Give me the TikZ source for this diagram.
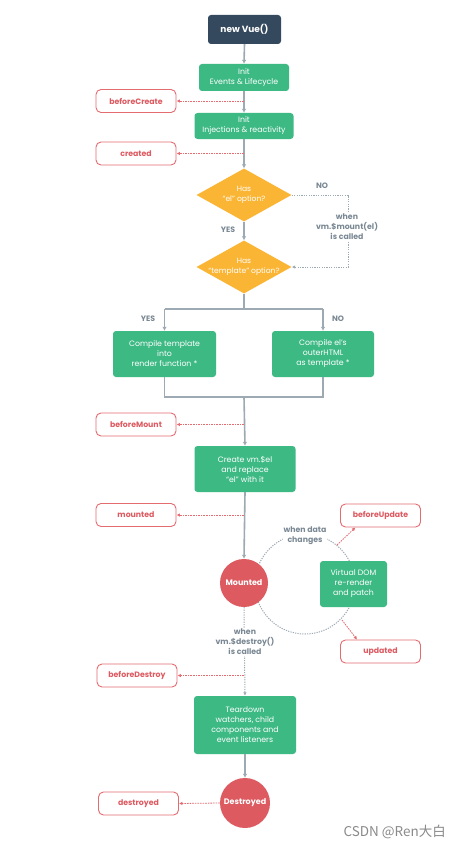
\documentclass[tikz,border=0pt]{standalone}
\usepackage{fontspec}
\setmainfont{Poppins}
\newfontfamily\cjk{Noto Sans CJK SC}
\usetikzlibrary{shapes.geometric,arrows.meta,calc}
\definecolor{vgreen}{HTML}{3DB984}
\definecolor{vdark}{HTML}{35495E}
\definecolor{vyellow}{HTML}{FBB535}
\definecolor{vred}{HTML}{DD5A61}
\definecolor{vhook}{HTML}{E46B70}
\definecolor{vgray}{HTML}{9DA9B3}
\definecolor{vtext}{HTML}{7A8894}
\definecolor{wmark}{HTML}{8A8A8A}
\tikzset{
  greenbox/.style={fill=vgreen, rounded corners=3pt, text=white, font=\fontsize{7.8}{10}\selectfont, align=center, inner sep=0pt},
  hookbox/.style={draw=vhook, line width=0.9pt, fill=white, rounded corners=5pt, minimum width=80pt, minimum height=23pt, text=vred, font=\fontsize{7.8}{9}\selectfont\bfseries, inner sep=0pt},
  diam/.style={diamond, fill=vyellow, minimum width=95pt, minimum height=53pt, inner sep=0pt},
  diamtext/.style={text=white, font=\fontsize{7.6}{10}\selectfont, align=center, inner sep=0pt},
  statecirc/.style={circle, fill=vred, minimum size=48pt, inner sep=0pt, text=white, font=\fontsize{8}{9}\selectfont\bfseries},
  graylabel/.style={text=vtext, font=\fontsize{7.8}{10}\selectfont\bfseries, align=center},
  spine/.style={draw=vgray, line width=1.6pt, -{Latex[length=4pt,width=4.5pt]}},
  spineline/.style={draw=vgray, line width=1.6pt},
  hookarrow/.style={draw=vhook, line width=0.8pt, dash pattern=on 1.6pt off 1pt, -{Latex[length=3.5pt,width=3.5pt]}},
  graydot/.style={draw=vgray, line width=1pt, dash pattern=on 1.2pt off 1.2pt},
}
\begin{document}
\begin{tikzpicture}[x=1pt,y=-1pt]
\useasboundingbox (0,0) rectangle (460,848);
\fill[white] (0,0) rectangle (460,848);

% dotted update cycle (behind)
\coordinate (cyc) at (305,584);
\draw[graydot] (cyc) circle (50pt);

% main nodes
\node[fill=vdark, rounded corners=3pt, text=white, font=\fontsize{9}{10}\selectfont\bfseries, minimum width=73pt, minimum height=29pt, inner sep=0pt] (nv) at (244.5,29.5) {new Vue()};
\node[greenbox, minimum width=90pt, minimum height=27pt] (ie) at (244,77.5) {Init\\Events \& Lifecycle};
\node[greenbox, minimum width=99pt, minimum height=26pt] (ii) at (244,126) {Init\\Injections \& reactivity};
\node[diam] (d1) at (244,195) {};
\node[diamtext] (d1t) at (244,195) {Has\\“el” option?};
\node[diam] (d2) at (244,267) {};
\node[diamtext] (d2t) at (244,267) {Has\\“template” option?};
\node[greenbox, minimum width=103pt, minimum height=46pt] (cl) at (164.5,354) {Compile template\\into\\render function *};
\node[greenbox, minimum width=102pt, minimum height=46pt] (cr) at (323,354) {Compile el’s\\outerHTML\\as template *};
\node[greenbox, minimum width=101pt, minimum height=46pt] (cv) at (245,469) {Create vm.\$el\\and replace\\“el” with it};
\node[statecirc] (mo) at (244,583) {Mounted};
\node[greenbox, minimum width=67pt, minimum height=46pt] (vd) at (353.5,584) {Virtual DOM\\re-render\\and patch};
\node[greenbox, minimum width=102pt, minimum height=58pt] (td) at (245,725) {Teardown\\watchers, child\\components and\\event listeners};
\node[statecirc, minimum size=50pt] (de) at (245,803) {Destroyed};

% hooks
\node[hookbox] (bc) at (136,101) {beforeCreate};
\node[hookbox] (cr8) at (136,153.5) {created};
\node[hookbox] (bm) at (136,424.5) {beforeMount};
\node[hookbox] (mt) at (136,515) {mounted};
\node[hookbox] (bu) at (380.5,515.5) {beforeUpdate};
\node[hookbox] (up) at (380.5,651.5) {updated};
\node[hookbox] (bd) at (137,675.5) {beforeDestroy};
\node[hookbox] (ds) at (138.5,803.5) {destroyed};

% labels
\node[graylabel] (no1) at (322,186) {NO};
\node[graylabel] (yes1) at (228,230) {YES};
\node[graylabel] (yes2) at (148,319) {YES};
\node[graylabel] (no2) at (338,319) {NO};

% spine
\draw[spine] (nv.south) -- (ie.north);
\draw[spine] (ie.south) -- (ii.north);
\draw[spine] (ii.south) -- (d1.north);
\draw[spine] (d1.south) -- (d2.north);
\coordinate (jT) at (244,309);
\coordinate (jL) at (164.5,309);
\coordinate (jR) at (323,309);
\draw[spineline] (d2.south) -- (jT);
\draw[spineline] (jL) -- (jR);
\draw[spine] (jL) -- (cl.north);
\draw[spine] (jR) -- (cr.north);
\coordinate (jM) at (244,397);
\draw[spineline] (cl.south) |- (jM) -| (cr.south);
\draw[spine] (jM) -- (cv.north);
\draw[spine] (cv.south) -- (mo.north);
\draw[spine] (td.south) -- (de.north);

% el / $mount dashed loop
\coordinate (mA) at (348,195);
\coordinate (mB) at (348,267);
\draw[graydot, -{Latex[length=3.5pt,width=3.5pt]}] (d1.east) -- (mA) -- (mB) -- (d2.east);
\node[graylabel, fill=white, inner sep=1pt] (mnt) at (347,227) {when\\vm.\$mount(el)\\is called};

% destroy dotted
\draw[graydot, -{Latex[length=3.5pt,width=3.5pt]}] (mo.south) -- (td.north);
\node[graylabel, fill=white, inner sep=1pt] (dst) at (245,642) {when\\vm.\$destroy()\\is called};

% data changes label
\node[graylabel, fill=white, inner sep=1pt] (wdc) at (305,536) {when data\\changes};

% hook arrows
\coordinate (hbc) at (244,101);
\coordinate (hcr) at (244,153.5);
\coordinate (hbm) at (244,424.5);
\coordinate (hmt) at (244,515);
\coordinate (hbd) at (244,675.5);
\draw[hookarrow] (hbc) -- (bc.east);
\draw[hookarrow] (hcr) -- (cr8.east);
\draw[hookarrow] (hbm) -- (bm.east);
\draw[hookarrow] (hmt) -- (mt.east);
\draw[hookarrow] (hbd) -- (bd.east);
\draw[hookarrow] (de.west) -- (ds.east);
\coordinate (hbu) at (337,545);
\coordinate (hup) at (342,620);
\draw[hookarrow] (hbu) -- ($(bu.south west)!0.19!(bu.south east)$);
\draw[hookarrow] (hup) -- ($(up.north west)!0.21!(up.north east)$);

% watermark
\node[text=wmark, font=\cjk\fontsize{13.5}{15}\selectfont, anchor=east, inner sep=0pt] (wm) at (446,832) {CSDN @Ren大白};
\end{tikzpicture}
\end{document}
